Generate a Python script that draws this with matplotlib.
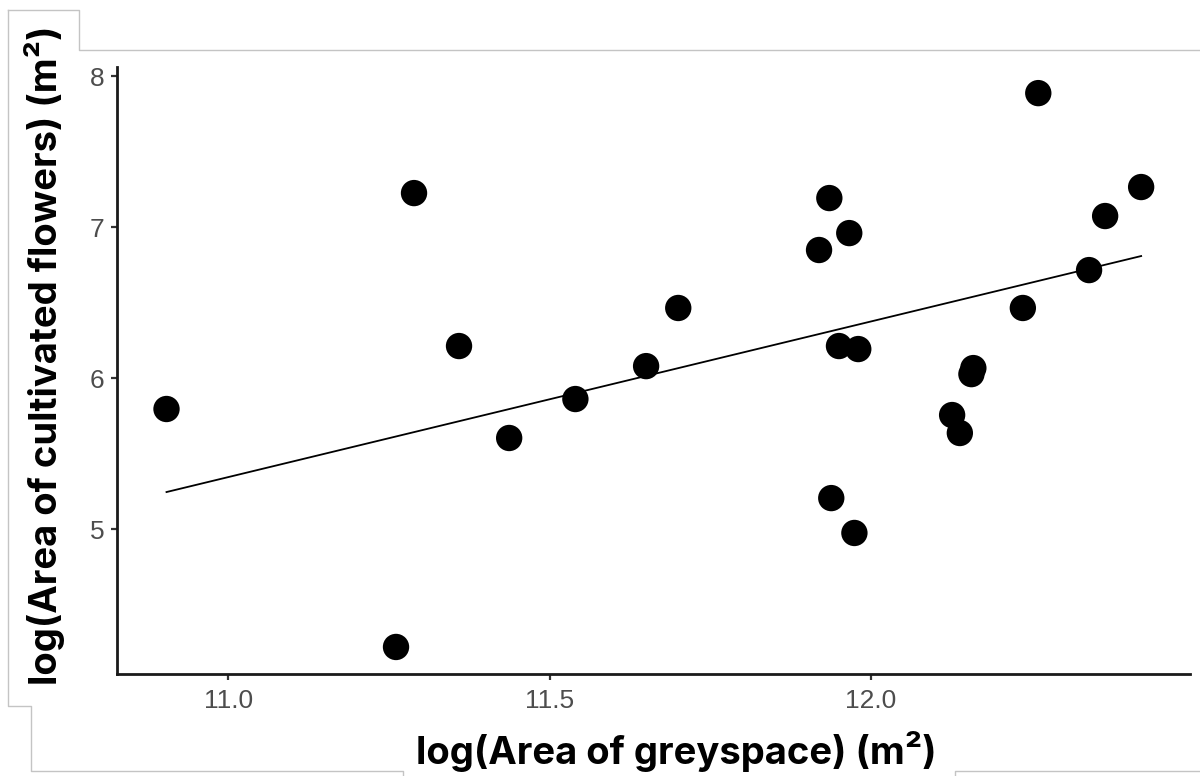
import numpy as np
import matplotlib
matplotlib.use("Agg")
import matplotlib.pyplot as plt
from matplotlib.lines import Line2D

# log areas per site
grey_area = [10.904, 11.261, 11.289, 11.359, 11.437, 11.540, 11.650, 11.700,
             11.919, 11.935, 11.966, 11.950, 11.980, 11.938, 11.974, 12.126,
             12.138, 12.156, 12.159, 12.236, 12.260, 12.339, 12.364, 12.420]
flower_area = [5.795, 4.219, 7.225, 6.212, 5.603, 5.861, 6.079, 6.464,
               6.848, 7.192, 6.960, 6.212, 6.192, 5.205, 4.974, 5.755,
               5.636, 6.026, 6.066, 6.464, 7.887, 6.715, 7.073, 7.265]

# fitted model coefficients: flower = intercept + slope * grey
fit_intercept = -5.997
fit_slope = 1.031

x_ticks = [11.0, 11.5, 12.0]
x_tick_labels = ["11.0", "11.5", "12.0"]
y_ticks = [5, 6, 7, 8]
y_tick_labels = ["5", "6", "7", "8"]

W, H = 1200, 776
fig = plt.figure(figsize=(W / 100, H / 100), dpi=100)
fig.patch.set_facecolor("white")

ax = fig.add_axes([117 / W, 1 - 674 / H, (1190 - 117) / W, (674 - 67) / H])
ax.set_facecolor("white")

x = np.array(grey_area)
y = np.array(flower_area)
ax.scatter(x, y, s=360, color="black", edgecolors="none", zorder=3)

# trend line across the observed range
xs = np.array([x.min(), x.max()])
ax.plot(xs, fit_intercept + fit_slope * xs, color="black", lw=1.3, zorder=2)

ax.set_xlim(10.827, 12.496)
ax.set_ylim(4.04, 8.06)
ax.set_xticks(x_ticks)
ax.set_xticklabels(x_tick_labels)
ax.set_yticks(y_ticks)
ax.set_yticklabels(y_tick_labels)

for side in ("top", "right"):
    ax.spines[side].set_visible(False)
for side in ("left", "bottom"):
    ax.spines[side].set_linewidth(2.0)
    ax.spines[side].set_color("#1a1a1a")

ax.tick_params(axis="both", length=4, width=1.6, color="#333333",
               labelcolor="#4d4d4d", labelsize=19,
               labelfontfamily="Liberation Sans")
ax.tick_params(axis="x", pad=7)
ax.tick_params(axis="y", pad=5)

title_font = dict(family=["Inter", "DejaVu Sans"], weight="bold", size=27.5,
                  color="black")
fig.text(676 / W, 1 - 751 / H, "log(Area of greyspace) (m²)",
         ha="center", va="center", **title_font)
fig.text(45 / W, 1 - 355 / H, "log(Area of cultivated flowers) (m²)",
         ha="center", va="center", rotation=90, **title_font)

# light frame segments around the figure
frame_color = "#c4c4c4"
segments = [
    [(8, 10), (79, 10), (79, 50), (1200, 50)],
    [(8, 10), (8, 706), (31, 706), (31, 771), (403, 771), (403, 776)],
    [(955, 776), (955, 771), (1200, 771)],
]
for seg in segments:
    px, py = zip(*seg)
    fig.add_artist(Line2D([p / W for p in px], [1 - q / H for q in py],
                          transform=fig.transFigure, color=frame_color, lw=1.0))

fig.savefig("out.png", dpi=100, facecolor="white")
